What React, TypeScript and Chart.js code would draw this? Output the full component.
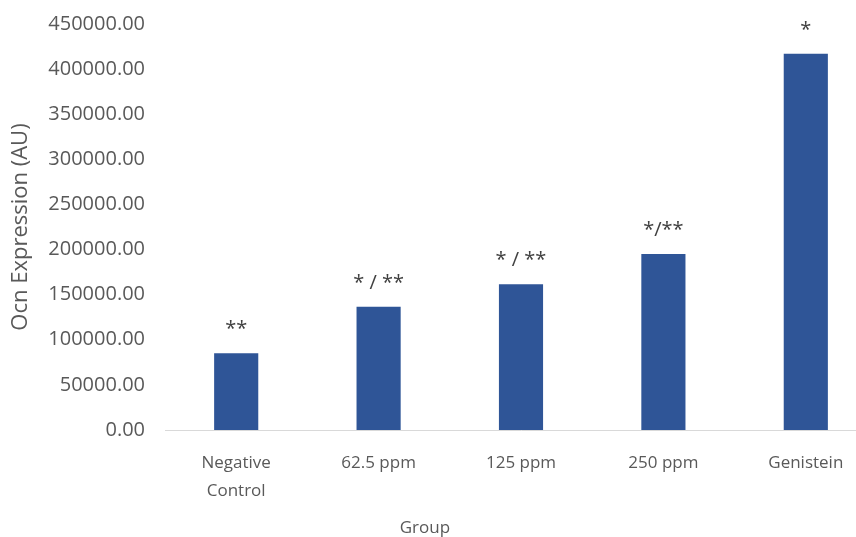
import React, { useEffect, useRef } from "react";
import { Chart, registerables } from "chart.js";

Chart.register(...registerables);

const categories: (string | string[])[] = [["Negative", "Control"], "62.5 ppm", "125 ppm", "250 ppm", "Genistein"];
const ocnValues: number[] = [85000, 136500, 161500, 195000, 417000];
const significance: string[] = ["**", "* / **", "* / **", "*/**", "*"];
const yTickStep = 50000;
const yMax = 450000;
const xTitle = "Group";
const yTitle = "Ocn Expression (AU)";

const FONT = "'Open Sans', sans-serif";

const annotationPlugin = {
  id: "sigLabels",
  afterDatasetsDraw(chart: any) {
    const ctx = chart.ctx;
    const meta = chart.getDatasetMeta(0);
    ctx.save();
    ctx.fillStyle = "#404040";
    ctx.font = `20px ${FONT}`;
    ctx.textAlign = "center";
    ctx.textBaseline = "alphabetic";
    meta.data.forEach((bar: any, i: number) => {
      ctx.fillText(significance[i], bar.x, bar.y - 18);
    });
    ctx.restore();
  },
};

const xTitlePlugin = {
  id: "xTitle",
  afterDraw(chart: any) {
    const { ctx, chartArea } = chart;
    ctx.save();
    ctx.fillStyle = "#595959";
    ctx.font = `17px ${FONT}`;
    ctx.textAlign = "center";
    ctx.textBaseline = "middle";
    const x = chartArea.left + (chartArea.right - chartArea.left) * 0.365;
    ctx.fillText(xTitle, x, chart.height - 9);
    ctx.restore();
  },
};

export default function App() {
  const canvasRef = useRef<HTMLCanvasElement | null>(null);

  useEffect(() => {
    document.body.style.overflow = "hidden";
    const chart = new Chart(canvasRef.current as HTMLCanvasElement, {
      type: "bar",
      data: {
        labels: categories as any,
        datasets: [
          {
            data: ocnValues,
            backgroundColor: "#2F5597",
            borderWidth: 0,
            categoryPercentage: 1,
            barPercentage: 0.31,
          },
        ],
      },
      options: {
        animation: false,
        responsive: true,
        maintainAspectRatio: false,
        layout: { padding: { top: 24, right: 5, left: 0, bottom: 0 } },
        plugins: {
          legend: { display: false },
          tooltip: { enabled: false },
        },
        scales: {
          x: {
            grid: { display: false, drawTicks: false },
            border: { display: true, color: "#d9d9d9", width: 1 },
            ticks: {
              color: "#595959",
              font: { family: FONT, size: 17, lineHeight: 1.6 },
              padding: 20,
              maxRotation: 0,
              autoSkip: false,
            },
            afterFit(scale: any) {
              scale.height = 107;
            },
          },
          y: {
            min: 0,
            max: yMax,
            grid: { display: false, drawTicks: true, tickLength: 17 },
            border: { display: false },
            ticks: {
              stepSize: yTickStep,
              color: "#595959",
              font: { family: FONT, size: 20 },
              padding: 3,
              callback: (v: any) => Number(v).toFixed(2),
            },
            title: {
              display: true,
              text: yTitle,
              color: "#595959",
              font: { family: FONT, size: 22 },
              padding: { top: 8, bottom: 0 },
            },
            afterFit(scale: any) {
              scale.width = 165;
            },
          },
        },
      },
      plugins: [annotationPlugin, xTitlePlugin],
    });
    return () => chart.destroy();
  }, []);

  return (
    <div style={{ position: "absolute", left: 0, top: 0, width: 856, height: 537, overflow: "hidden", background: "#fff" }}>
      <div style={{ position: "relative", width: 882, height: 537 }}>
        <canvas ref={canvasRef} />
      </div>
    </div>
  );
}
